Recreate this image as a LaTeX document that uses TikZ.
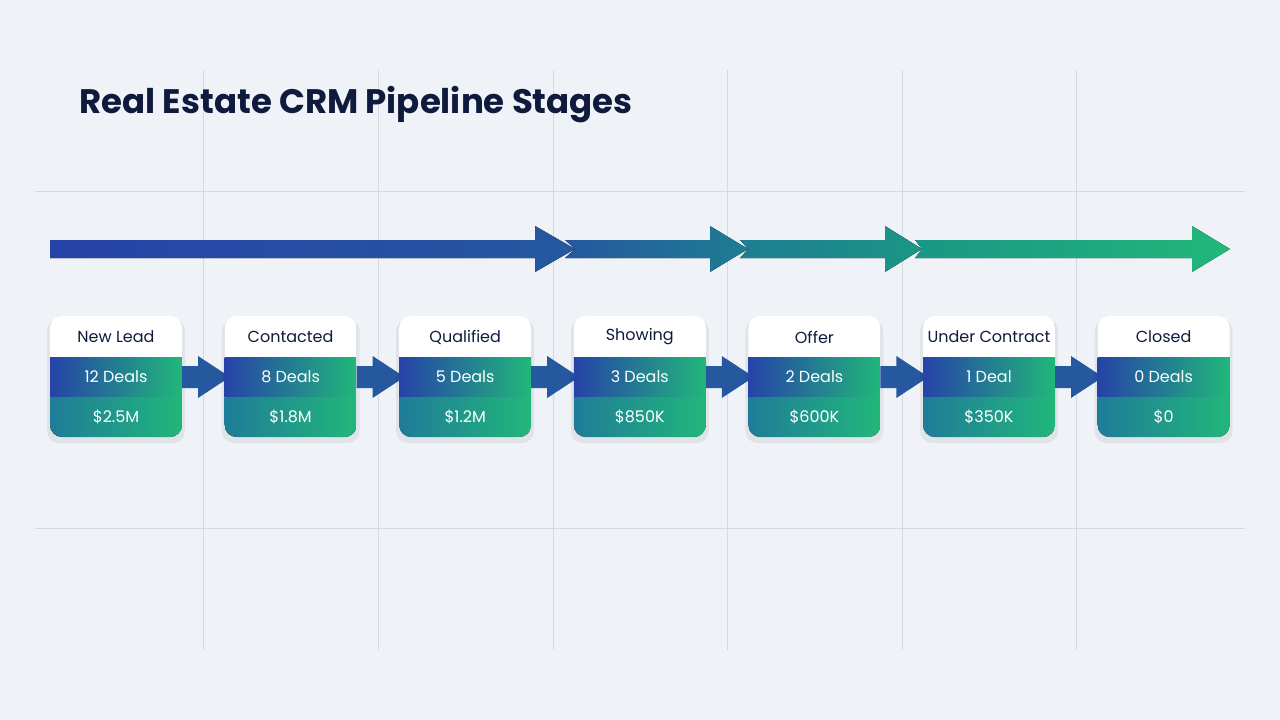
\documentclass[tikz,border=0pt]{standalone}
\usepackage{fontspec}
\setmainfont{Poppins}
\usetikzlibrary{positioning}
\definecolor{bgcol}{HTML}{EFF3F7}
\definecolor{gridcol}{HTML}{D5DAE0}
\definecolor{navy}{HTML}{0F1B3D}
\definecolor{crmblue}{HTML}{2643A8}
\definecolor{crmteal}{HTML}{1F7C98}
\definecolor{crmgreen}{HTML}{21B77A}
\definecolor{crmmid1}{HTML}{25589F}
\definecolor{crmmid2}{HTML}{1E7D92}
\definecolor{crmmid3}{HTML}{1B9685}
\begin{document}
\begin{tikzpicture}[x=1pt,y=-1pt,
	gridline/.style = {draw=gridcol, line width=0.8pt},
	cardtxt/.style = {font=\fontsize{16}{18}\selectfont, inner sep=0pt},
	linkarrow/.style = {fill=crmmid1}]
	\useasboundingbox[fill=bgcol] (0,0) rectangle (1280,720);
	% grid
	\foreach \gx in {203,378,553,727,902,1076}
		\draw[gridline] (\gx,70) -- (\gx,650);
	\foreach \gy in {191,528}
		\draw[gridline] (35,\gy) -- (1245,\gy);
	% title
	\node[anchor=west, text=navy, font=\fontsize{34}{40}\selectfont\bfseries] (title) at (76,105) {Real Estate CRM Pipeline Stages};
	% top arrows
	\fill[left color=crmblue, right color=crmmid1] (50,240) -- (535,240) -- (535,226) -- (575,249) -- (535,272) -- (535,258) -- (50,258) -- cycle;
	\fill[left color=crmmid1, right color=crmmid2] (565,240) -- (710,240) -- (710,226) -- (748,249) -- (710,272) -- (710,258) -- (565,258) -- (575,249) -- cycle;
	\fill[left color=crmmid2, right color=crmmid3] (740,240) -- (885,240) -- (885,226) -- (922,249) -- (885,272) -- (885,258) -- (740,258) -- (748,249) -- cycle;
	\fill[left color=crmmid3, right color=crmgreen] (915,240) -- (1192,240) -- (1192,226) -- (1230,249) -- (1192,272) -- (1192,258) -- (915,258) -- (922,249) -- cycle;
	% cards
	\foreach \i/\stage/\deals/\amount in {0/New Lead/12 Deals/\$2.5M, 1/Contacted/8 Deals/\$1.8M, 2/Qualified/5 Deals/\$1.2M, 3/Showing/3 Deals/\$850K, 4/Offer/2 Deals/\$600K, 5/Under Contract/1 Deal/\$350K, 6/Closed/0 Deals/\$0}{
		\pgfmathsetmacro{\cx}{50+174.6*\i}
		\fill[black, opacity=0.06, rounded corners=12pt] (\cx-3,319) rectangle (\cx+135,443);
		\begin{scope}
			\clip[rounded corners=12pt] (\cx,316) rectangle (\cx+132,437);
			\fill[white] (\cx,316) rectangle (\cx+132,357);
			\fill[left color=crmblue, right color=crmgreen] (\cx,357) rectangle (\cx+132,397);
			\fill[left color=crmteal, right color=crmgreen] (\cx,397) rectangle (\cx+132,437);
		\end{scope}
		\node[cardtxt, text=navy] (stage\i) at (\cx+66,337) {\stage};
		\node[cardtxt, text=white] (deals\i) at (\cx+66,377) {\deals};
		\node[cardtxt, text=white] (amount\i) at (\cx+66,417) {\amount};
		% link arrow to the next card
		\ifnum\i<6
			\fill[linkarrow] (\cx+132,366) -- (\cx+148,366) -- (\cx+148,356) -- (\cx+180,377) -- (\cx+148,398) -- (\cx+148,388) -- (\cx+132,388) -- cycle;
		\fi
	}
\end{tikzpicture}
\end{document}
